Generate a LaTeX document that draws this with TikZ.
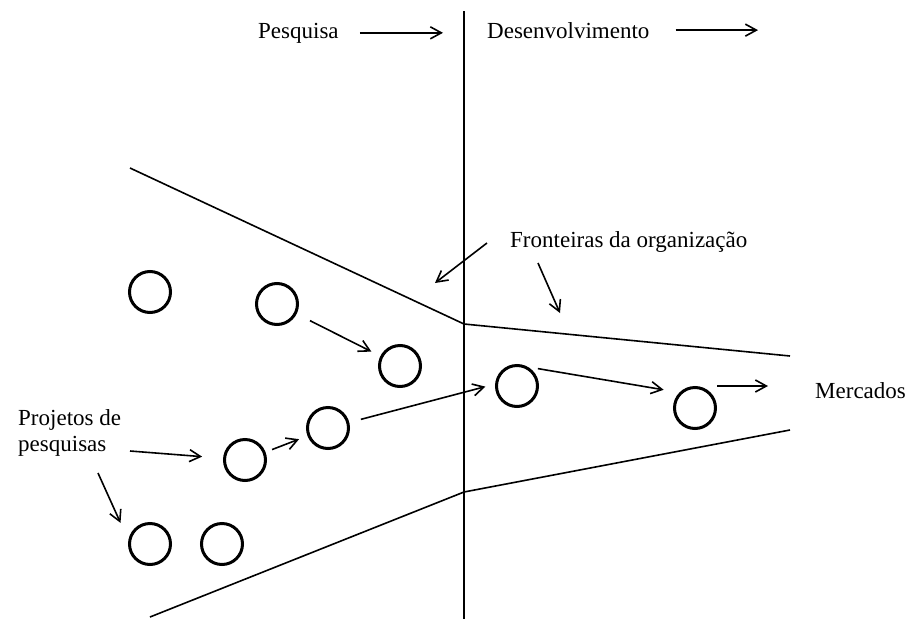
\documentclass[tikz,border=0pt]{standalone}
\usepackage{fontspec}
\setmainfont{Liberation Serif}
\usetikzlibrary{arrows.meta}

\tikzset{
  bola/.style={draw,circle,line width=3pt,minimum size=41pt,inner sep=0pt},
  rotulo/.style={inner sep=0pt,anchor=base west,font=\fontsize{23}{26}\selectfont},
  seta/.style={line width=1.6pt,-{Straight Barb[length=11pt,width=12pt]}},
  borda/.style={line width=1.6pt}
}

\begin{document}
\begin{tikzpicture}[x=1pt,y=-1pt]
  \useasboundingbox (0,0) rectangle (906,619);
  % Pesquisa | Desenvolvimento
  \coordinate (vt) at (464,11);
  \coordinate (vb) at (464,619);
  \draw[line width=1.8pt] (vt) -- (vb);
  \node[rotulo] (pesq) at (258,38) {Pesquisa};
  \node[rotulo] (desenv) at (487,38) {Desenvolvimento};
  \coordinate (dfim) at (758,33);
  \draw[seta,shorten <=21pt,shorten >=21pt] (pesq.east) -- (pesq.east -| vt);
  \draw[seta,shorten <=26pt] (desenv.east) -- (desenv.east -| dfim);
  % Fronteiras da organizacao
  \coordinate (tl) at (130,168);
  \coordinate (tm) at (464,324);
  \coordinate (tr) at (790,356);
  \coordinate (bl) at (150,617);
  \coordinate (bm) at (464,492);
  \coordinate (br) at (790,430);
  \draw[borda] (tl) -- (tm) -- (tr);
  \draw[borda] (bl) -- (bm) -- (br);
  \node[rotulo] (fron) at (510,247) {Fronteiras da organização};
  \coordinate (fa) at (487,243);
  \coordinate (fa2) at (435,283);
  \coordinate (fb) at (538,263);
  \coordinate (fb2) at (560,313);
  \draw[seta] (fa) -- (fa2);
  \draw[seta] (fb) -- (fb2);
  % Projetos
  \node[bola] (c1) at (150,292) {};
  \node[bola] (c2) at (277,304) {};
  \node[bola] (c3) at (400,366) {};
  \node[bola] (c4) at (245,460) {};
  \node[bola] (c5) at (328,428) {};
  \node[bola] (c6) at (517,386) {};
  \node[bola] (c7) at (150,544) {};
  \node[bola] (c8) at (222,544) {};
  \node[bola] (c9) at (695,408) {};
  \draw[seta,shorten <=15pt,shorten >=10pt] (c2) -- (c3);
  \draw[seta,shorten <=7pt,shorten >=9pt] (c4) -- (c5);
  \draw[seta,shorten <=12pt,shorten >=10pt] (c5) -- (c6.175);
  \draw[seta,shorten <=10pt,shorten >=16pt] (c6.60) -- (c9.135);
  % Mercados
  \node[rotulo] (merc) at (815,398) {Mercados};
  \draw[seta,shorten >=47pt] (c9.north -| c9.east) -- (c9.north -| merc.west);
  % Projetos de pesquisas
  \node[rotulo,anchor=north west,align=left] (proj) at (18,409) {Projetos de\\pesquisas};
  \coordinate (pa) at (130,451);
  \coordinate (pb) at (98,473);
  \draw[seta,shorten >=21pt] (pa) -- (c4);
  \draw[seta,shorten >=19pt] (pb) -- (c7.170);
\end{tikzpicture}
\end{document}
